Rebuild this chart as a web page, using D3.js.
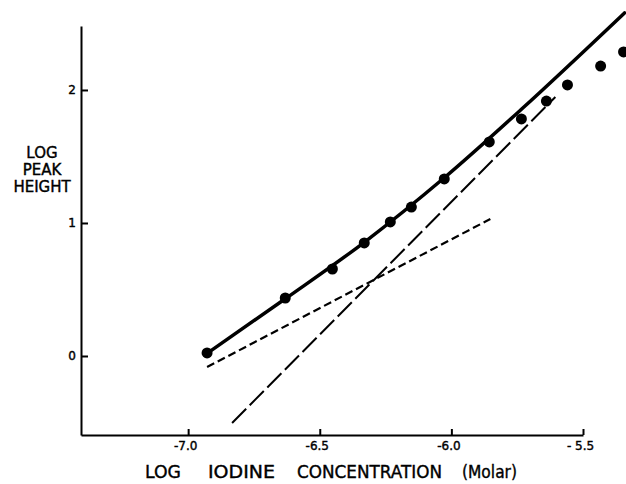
<!DOCTYPE html>
<html><head><meta charset="utf-8">
<script src="https://cdn.jsdelivr.net/npm/d3@7"></script>
<style>
body{margin:0;background:#fff;}
svg{display:block;font-family:"DejaVu Sans",sans-serif;}
</style></head>
<body><svg id="c" width="626" height="484"></svg>
<script>
// Data (log iodine concentration, log peak height)
const pointX = [-6.928, -6.631, -6.452, -6.331, -6.232, -6.152, -6.027, -5.856, -5.734, -5.639, -5.559, -5.433, -5.346];
const pointY = [0.023, 0.436, 0.654, 0.850, 1.008, 1.120, 1.331, 1.609, 1.782, 1.917, 2.038, 2.180, 2.286];
const curveX = [-6.928, -6.631, -6.331, -6.027, -5.734, -5.342];
const curveY = [0.02, 0.43, 0.855, 1.34, 1.855, 2.58];
const shallowX = [-6.928, -5.852];
const shallowY = [-0.083, 1.03];
const steepX = [-6.833, -5.605];
const steepY = [-0.504, 1.947];
const xTicks = [-7.0, -6.5, -6.0, -5.5];
const xTickLabels = ["-7.0", "-6.5", "-6.0", "- 5.5"];
const yTicks = [0, 1, 2];
const yTickLabels = ["0", "1", "2"];

const svg = d3.select("#c");
const x = d3.scaleLinear().domain([-7.407, -5.5]).range([81, 583]);
const y = d3.scaleLinear().domain([-0.594, 2.481]).range([435, 26]);

// axes
const xAxis = d3.axisBottom(x).tickValues(xTicks)
  .tickFormat((d,i)=>xTickLabels[i]).tickSizeInner(-6).tickSizeOuter(0).tickPadding(6);
const gx = svg.append("g").attr("transform","translate(0,435)").call(xAxis);
const yAxis = d3.axisLeft(y).tickValues(yTicks)
  .tickFormat((d,i)=>yTickLabels[i]).tickSizeInner(-7).tickSizeOuter(0).tickPadding(5);
const gy = svg.append("g").attr("transform","translate(81,0)").call(yAxis);
[gx, gy].forEach(g=>{
  g.select(".domain").attr("stroke","#000").attr("stroke-width",2);
  g.selectAll(".tick line").attr("stroke","#000").attr("stroke-width",2);
  g.selectAll(".tick text").attr("fill","#000").attr("font-size",12)
    .attr("stroke","#000").attr("stroke-width",0.4)
    .attr("font-family","DejaVu Sans, sans-serif");
});
gx.selectAll(".tick text").attr("dx", -3);

const line = d3.line().x(d=>x(d[0])).y(d=>y(d[1]));

// steep long-dash line
svg.append("path").datum(d3.zip(steepX, steepY)).attr("d", line)
  .attr("fill","none").attr("stroke","#000").attr("stroke-width",2).attr("stroke-dasharray","20,5");
// shallow short-dash line
svg.append("path").datum(d3.zip(shallowX, shallowY)).attr("d", line)
  .attr("fill","none").attr("stroke","#000").attr("stroke-width",2.2).attr("stroke-dasharray","8,4");
// solid curve
svg.append("path").datum(d3.zip(curveX, curveY)).attr("d", d3.line().x(d=>x(d[0])).y(d=>y(d[1])).curve(d3.curveMonotoneX))
  .attr("fill","none").attr("stroke","#000").attr("stroke-width",3.5).attr("stroke-linecap","round");
// points
svg.append("g").selectAll("circle").data(d3.zip(pointX, pointY)).join("circle")
  .attr("cx", d=>x(d[0])).attr("cy", d=>y(d[1])).attr("r", 5.5).attr("fill","#000");

// y title
const yt = svg.append("text").attr("text-anchor","middle").attr("font-size",15).attr("fill","#000")
  .attr("stroke","#000").attr("stroke-width",0.4);
[["LOG",158],["PEAK",175],["HEIGHT",192]].forEach(([t,yy])=>{
  yt.append("tspan").attr("x",42).attr("y",yy).text(t);
});
// x title
const xt = svg.append("g").attr("font-size",18).attr("fill","#000").attr("stroke","#000").attr("stroke-width",0.4);
[["LOG",145,36],["IODINE",208,67],["CONCENTRATION",297,145],["(Molar)",462,55]].forEach(([t,xx,w])=>{
  xt.append("text").attr("x",xx).attr("y",478).attr("textLength",w).attr("lengthAdjust","spacingAndGlyphs").text(t);
});
</script></body></html>
